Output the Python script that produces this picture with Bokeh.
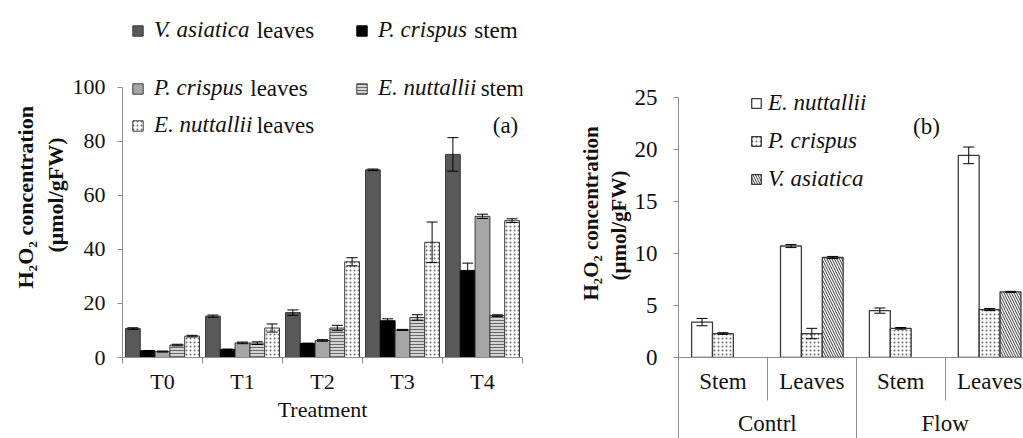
import math
from bokeh.plotting import figure
from bokeh.models import (ColumnDataSource, Range1d, FixedTicker, Whisker, TeeHead,
                          Legend, LegendItem, Label, LinearAxis, Title)
from bokeh.layouts import row
from bokeh.embed import file_html
from bokeh.resources import INLINE
from bokeh.core.properties import value

FONT = "Liberation Serif"
AXIS_COLOR = "#8c8c8c"
TEXT_COLOR = "#111111"

# ---------------- Panel (a) data ----------------
treatments = ["T0", "T1", "T2", "T3", "T4"]
a_species = ["V. asiatica", "P. crispus", "P. crispus", "E. nuttallii", "E. nuttallii"]
a_tissue = ["leaves", "stem", "leaves", "stem", "leaves"]
va_leaves = [10.7, 15.3, 16.6, 69.4, 75.1]
va_leaves_err = [0.3, 0.4, 1.0, 0.3, 6.2]
pc_stem = [2.5, 3.0, 5.2, 13.6, 32.2]
pc_stem_err = [0.1, 0.1, 0.1, 0.7, 2.7]
pc_leaves = [2.2, 5.4, 6.3, 10.2, 52.2]
pc_leaves_err = [0.2, 0.3, 0.3, 0.2, 0.8]
en_stem = [4.6, 5.3, 10.9, 14.8, 15.5]
en_stem_err = [0.3, 0.5, 1.0, 1.0, 0.3]
en_leaves = [7.9, 10.9, 35.4, 42.6, 50.6]
en_leaves_err = [0.3, 1.5, 1.5, 7.5, 0.7]
a_yticks = [0, 20, 40, 60, 80, 100]

# ---------------- Panel (b) data ----------------
tissues = ["Stem", "Leaves", "Stem", "Leaves"]
conditions = ["Contrl", "Flow"]
b_species = ["E. nuttallii", "P. crispus", "V. asiatica"]
b_en = [3.4, 10.7, 4.5, 19.4]
b_en_err = [0.35, 0.15, 0.25, 0.8]
b_pc = [2.3, 2.3, 2.8, 4.6]
b_pc_err = [0.08, 0.5, 0.08, 0.1]
b_va = [None, 9.6, None, 6.3]
b_va_err = [None, 0.1, None, 0.05]
b_yticks = [0, 5, 10, 15, 20, 25]

Y_TITLE_1 = "H\u2082O\u2082 concentration"
Y_TITLE_2 = "(\u03bcmol/gFW)"

# Times/Liberation Serif italic advance widths (em/1000) for legend text layout
ITALIC_W = {" ": 250, ".": 250, "E": 611, "P": 611, "V": 611, "a": 500, "c": 444,
            "i": 278, "l": 278, "n": 500, "p": 500, "r": 389, "s": 389, "t": 278, "u": 500}


def italic_width(s, size):
    return sum(ITALIC_W.get(ch, 500) for ch in s) * size / 1000.0


def style_axis(ax, size="22px"):
    ax.axis_line_color = AXIS_COLOR
    ax.major_tick_line_color = AXIS_COLOR
    ax.minor_tick_line_color = AXIS_COLOR
    ax.major_label_text_font = FONT
    ax.major_label_text_font_size = size
    ax.major_label_text_color = TEXT_COLOR
    ax.axis_label_text_font = FONT
    ax.axis_label_text_font_size = "22px"
    ax.axis_label_text_color = TEXT_COLOR
    ax.axis_label_text_font_style = "normal"


def nan(v):
    return float("nan") if v is None else v


def y_title(p, size, off1, off2, standoff):
    # added nearest-to-axis first
    for txt, off in ((Y_TITLE_2, off2), (Y_TITLE_1, off1)):
        p.add_layout(Title(text=txt, align="left", offset=off, standoff=standoff,
                           text_font=FONT, text_font_size=size, text_font_style="bold",
                           text_color=TEXT_COLOR), "left")


H = 438
# ======================= Figure (a) =======================
pa = figure(width=548, height=H, x_range=Range1d(0, len(treatments)), y_range=Range1d(0, 129.8),
            output_backend="svg", toolbar_location=None,
            min_border_left=122, min_border_right=26, min_border_top=6, min_border_bottom=81)
pa.outline_line_color = None
pa.xgrid.grid_line_color = None
pa.ygrid.grid_line_color = None

a_centers = [i + 0.5 for i in range(len(treatments))]
a_values = [va_leaves, pc_stem, pc_leaves, en_stem, en_leaves]
a_errors = [va_leaves_err, pc_stem_err, pc_leaves_err, en_stem_err, en_leaves_err]
a_styles = [
    dict(fill_color="#595959", line_color="#3a3a3a"),
    dict(fill_color="#000000", line_color="#000000"),
    dict(fill_color="#a6a6a6", line_color="#3a3a3a"),
    dict(fill_color="#d4d4d4", line_color="#3a3a3a", hatch_pattern="horizontal_line",
         hatch_color="#6a6a6a", hatch_scale=3, hatch_weight=1),
    dict(fill_color="#ffffff", line_color="#3a3a3a", hatch_pattern="dot",
         hatch_color="#6a6a6a", hatch_scale=4, hatch_weight=1),
]
bw_a = 0.185
a_renderers = []
for k, (vals, errs, st) in enumerate(zip(a_values, a_errors, a_styles)):
    off = (k - 2) * bw_a
    src = ColumnDataSource(dict(
        x=[c + off for c in a_centers], top=vals,
        upper=[v + e for v, e in zip(vals, errs)],
        lower=[v - e for v, e in zip(vals, errs)]))
    r = pa.vbar(x="x", top="top", bottom=0, width=bw_a, source=src, line_width=1, **st)
    a_renderers.append(r)
    pa.add_layout(Whisker(base="x", upper="upper", lower="lower", source=src, line_color="black",
                          line_width=1, level="overlay",
                          upper_head=TeeHead(size=11, line_color="black", line_width=1),
                          lower_head=TeeHead(size=11, line_color="black", line_width=1)))

pa.yaxis.ticker = FixedTicker(ticks=a_yticks)
pa.yaxis.bounds = (0, 100)
style_axis(pa.yaxis[0])
pa.yaxis.major_tick_out = 5
pa.yaxis.major_tick_in = 0
pa.yaxis.major_label_standoff = 12
y_title(pa, "22px", 69, 105, 3)

pa.xaxis.ticker = FixedTicker(ticks=a_centers, minor_ticks=list(range(len(treatments) + 1)))
pa.xaxis.major_label_overrides = {c: t for c, t in zip(a_centers, treatments)}
style_axis(pa.xaxis[0])
pa.xaxis.major_tick_line_color = None
pa.xaxis.major_tick_out = 0
pa.xaxis.minor_tick_out = 6
pa.xaxis.minor_tick_in = 0
pa.xaxis.major_label_standoff = 5
pa.xaxis.axis_label = "Treatment"
pa.xaxis.axis_label_standoff = 0

# legend (a): three rows, species italic + tissue word
LEG_SIZE = 23
legend_rows = [[0, 1], [2, 3], [4]]
row_sy = [314, 256, 219]
col_pitch = 224
LX, GW, GS = 9, 13, 10
for rows_idx, sy in zip(legend_rows, row_sy):
    items = [LegendItem(label=value(a_species[k]), renderers=[a_renderers[k]]) for k in rows_idx]
    lg = Legend(items=items, location=(LX, sy), orientation="horizontal",
                padding=0, margin=0, spacing=0, border_line_color=None, background_fill_alpha=0,
                glyph_width=GW, glyph_height=13, label_standoff=GS, label_height=26,
                label_width=col_pitch - GW - GS,
                label_text_font=FONT, label_text_font_size=f"{LEG_SIZE}px",
                label_text_font_style="italic", label_text_color=TEXT_COLOR)
    pa.add_layout(lg, "center")
    for j, k in enumerate(rows_idx):
        tx = LX + j * col_pitch + GW + GS + italic_width(a_species[k] + " ", LEG_SIZE) - 2
        pa.add_layout(Label(x=tx, y=sy + 13, x_units="screen", y_units="screen", text=a_tissue[k],
                            text_font=FONT, text_font_size=f"{LEG_SIZE}px", text_color=TEXT_COLOR,
                            text_baseline="middle", text_align="left"))

pa.add_layout(Label(x=383, y=232, x_units="screen", y_units="screen", text="(a)",
                    text_font=FONT, text_font_size="23px", text_color=TEXT_COLOR,
                    text_baseline="middle", text_align="center"))

# ======================= Figure (b) =======================
pb = figure(width=475, height=H, x_range=Range1d(0, 3.87), y_range=Range1d(0, 33.69),
            output_backend="svg", toolbar_location=None,
            min_border_left=130, min_border_right=1, min_border_top=6, min_border_bottom=81)
pb.outline_line_color = None
pb.xgrid.grid_line_color = None
pb.ygrid.grid_line_color = None

b_centers = [i + 0.5 for i in range(len(tissues))]
b_values = [b_en, b_pc, b_va]
b_errors = [b_en_err, b_pc_err, b_va_err]
b_styles = [
    dict(fill_color="#ffffff", line_color="#3a3a3a"),
    dict(fill_color="#ffffff", line_color="#3a3a3a", hatch_pattern="dot",
         hatch_color="#6a6a6a", hatch_scale=4, hatch_weight=1),
    dict(fill_color="#ffffff", line_color="#3a3a3a", hatch_pattern="left_diagonal_line",
         hatch_color="#3a3a3a", hatch_scale=5, hatch_weight=1),
]
bw_b = 0.235
b_renderers = []
for k, (vals, errs, st) in enumerate(zip(b_values, b_errors, b_styles)):
    off = (k - 1) * bw_b
    xs, tops, ups, lows = [], [], [], []
    for c, v, e in zip(b_centers, vals, errs):
        xs.append(c + off)
        tops.append(nan(v))
        ups.append(nan(v) + nan(e))
        lows.append(nan(v) - nan(e))
    src = ColumnDataSource(dict(x=xs, top=tops, upper=ups, lower=lows))
    r = pb.vbar(x="x", top="top", bottom=0, width=bw_b, source=src, line_width=1.3, **st)
    b_renderers.append(r)
    pb.add_layout(Whisker(base="x", upper="upper", lower="lower", source=src, line_color="black",
                          line_width=1, level="overlay",
                          upper_head=TeeHead(size=11, line_color="black", line_width=1),
                          lower_head=TeeHead(size=11, line_color="black", line_width=1)))

pb.yaxis.ticker = FixedTicker(ticks=b_yticks)
pb.yaxis.bounds = (0, 25)
style_axis(pb.yaxis[0], "23px")
pb.yaxis.major_tick_out = 5
pb.yaxis.major_tick_in = 0
pb.yaxis.major_label_standoff = 16
y_title(pb, "21px", 57, 77, 2)

# first category level (Stem / Leaves) with separators
pb.xaxis.ticker = FixedTicker(ticks=b_centers, minor_ticks=list(range(len(tissues) + 1)))
pb.xaxis.major_label_overrides = {c: t for c, t in zip(b_centers, tissues)}
style_axis(pb.xaxis[0], "23px")
pb.xaxis.major_label_text_line_height = 1.0
pb.xaxis.major_tick_line_color = None
pb.xaxis.major_tick_out = 0
pb.xaxis.minor_tick_out = 43
pb.xaxis.minor_tick_in = 0
pb.xaxis.major_label_standoff = -32

# second category level (Contrl / Flow) with long separators
cond_centers = [2 * j + 1 for j in range(len(conditions))]
group_axis = LinearAxis(ticker=FixedTicker(ticks=cond_centers,
                                           minor_ticks=[2 * j for j in range(len(conditions) + 1)]))
group_axis.major_label_overrides = {c: t for c, t in zip(cond_centers, conditions)}
style_axis(group_axis, "23px")
group_axis.major_label_text_line_height = 1.0
group_axis.axis_line_color = None
group_axis.major_tick_line_color = None
group_axis.major_tick_out = 0
group_axis.minor_tick_in = 39
group_axis.minor_tick_out = 42
group_axis.major_label_standoff = -28
pb.add_layout(group_axis, "below")

items_b = [LegendItem(label=value(s), renderers=[r]) for s, r in zip(b_species, b_renderers)]
lgb = Legend(items=items_b, location=(72, 165), orientation="vertical",
             padding=0, margin=0, spacing=12, border_line_color=None, background_fill_alpha=0,
             glyph_width=12, glyph_height=12, label_standoff=6, label_height=26,
             label_text_font=FONT, label_text_font_size="23px",
             label_text_font_style="italic", label_text_color=TEXT_COLOR)
pb.add_layout(lgb, "center")

pb.add_layout(Label(x=248, y=231, x_units="screen", y_units="screen", text="(b)",
                    text_font=FONT, text_font_size="23px", text_color=TEXT_COLOR,
                    text_baseline="middle", text_align="center"))

layout = row(pa, pb)
open("out.html", "w").write(file_html(layout, INLINE))
